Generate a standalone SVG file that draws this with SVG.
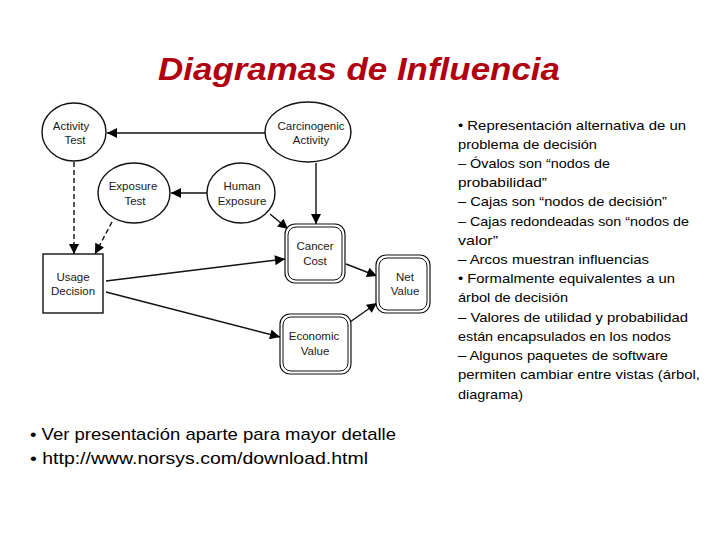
<svg xmlns="http://www.w3.org/2000/svg" width="720" height="540" viewBox="0 0 720 540">
<defs>
<marker id="ah" viewBox="0 0 10 10" refX="10" refY="5" markerWidth="11" markerHeight="10" markerUnits="userSpaceOnUse" orient="auto">
<path d="M0,0 L10,5 L0,10 z" fill="#000"/>
</marker>
</defs>
<style>
.nd{fill:#fff;stroke:#111;stroke-width:1.4}
.vo{fill:#fff;stroke:#111;stroke-width:1.2}
.vi{fill:none;stroke:#111;stroke-width:1}
.lb{font-family:"Liberation Sans",Arial,sans-serif;font-size:11.5px;fill:#1a1a1a;text-anchor:middle}
.cn{fill:none;stroke:#111;stroke-width:1.4;marker-end:url(#ah)}
.ds{stroke-dasharray:5,3}
.rt{font-family:"Liberation Sans",Arial,sans-serif;font-size:13.5px;fill:#000}
.bt{font-family:"Liberation Sans",Arial,sans-serif;font-size:17px;fill:#000}
</style>
<rect width="720" height="540" fill="#fff"/>
<text x="158" y="80" textLength="402" lengthAdjust="spacingAndGlyphs" font-family="Liberation Sans,Arial,sans-serif" font-size="31" font-weight="bold" font-style="italic" fill="#B00010">Diagramas de Influencia</text>

<g id="connectors">
<line class="cn" x1="265" y1="133" x2="107" y2="133"/>
<line class="cn" x1="207" y1="193" x2="171" y2="193"/>
<line class="cn" x1="316" y1="163" x2="316" y2="224"/>
<line class="cn" x1="270" y1="214" x2="288" y2="229"/>
<line class="cn ds" x1="74" y1="162" x2="74" y2="254"/>
<line class="cn ds" x1="112" y1="222" x2="95" y2="254"/>
<line class="cn" x1="106" y1="281" x2="285" y2="259"/>
<line class="cn" x1="106" y1="292" x2="280" y2="337"/>
<line class="cn" x1="346" y1="264" x2="377" y2="276"/>
<line class="cn" x1="350" y1="322" x2="377" y2="303"/>
</g>

<g id="activity-test"><ellipse class="nd" cx="74" cy="132" rx="32" ry="29"/>
<text class="lb" x="71" y="130">Activity</text><text class="lb" x="75" y="144">Test</text></g>
<g id="carcinogenic-activity"><ellipse class="nd" cx="308" cy="132" rx="43" ry="30"/>
<text class="lb" x="311" y="130">Carcinogenic</text><text class="lb" x="311" y="144">Activity</text></g>
<g id="exposure-test"><ellipse class="nd" cx="134" cy="193" rx="36" ry="30"/>
<text class="lb" x="133" y="190">Exposure</text><text class="lb" x="135" y="205">Test</text></g>
<g id="human-exposure"><ellipse class="nd" cx="241" cy="193" rx="34" ry="30"/>
<text class="lb" x="242" y="190">Human</text><text class="lb" x="242" y="205">Exposure</text></g>
<g id="usage-decision"><rect class="nd" x="43" y="254" width="60" height="59"/>
<text class="lb" x="73" y="281">Usage</text><text class="lb" x="73" y="295">Decision</text></g>
<g id="cancer-cost"><rect class="vo" x="285" y="224" width="60" height="59" rx="10"/><rect class="vi" x="288" y="227" width="54" height="53" rx="8"/>
<text class="lb" x="315" y="250">Cancer</text><text class="lb" x="315" y="265">Cost</text></g>
<g id="net-value"><rect class="vo" x="376" y="255" width="54" height="58" rx="10"/><rect class="vi" x="379" y="258" width="48" height="52" rx="8"/>
<text class="lb" x="405" y="281">Net</text><text class="lb" x="405" y="295">Value</text></g>
<g id="economic-value"><rect class="vo" x="280" y="314" width="71" height="60" rx="10"/><rect class="vi" x="283" y="317" width="65" height="54" rx="8"/>
<text class="lb" x="314" y="340">Economic</text><text class="lb" x="315" y="355">Value</text></g>

<g id="right-text" class="rt">
<text x="458" y="130" textLength="228" lengthAdjust="spacingAndGlyphs">• Representación alternativa de un</text>
<text x="458" y="149" textLength="139" lengthAdjust="spacingAndGlyphs">problema de decisión</text>
<text x="458" y="168" textLength="152" lengthAdjust="spacingAndGlyphs">– Óvalos son “nodos de</text>
<text x="458" y="187" textLength="89" lengthAdjust="spacingAndGlyphs">probabilidad”</text>
<text x="458" y="206" textLength="209" lengthAdjust="spacingAndGlyphs">– Cajas son “nodos de decisión”</text>
<text x="458" y="226" textLength="231" lengthAdjust="spacingAndGlyphs">– Cajas redondeadas son “nodos de</text>
<text x="458" y="245" textLength="40" lengthAdjust="spacingAndGlyphs">valor”</text>
<text x="458" y="264" textLength="191" lengthAdjust="spacingAndGlyphs">– Arcos muestran  influencias</text>
<text x="458" y="283" textLength="217" lengthAdjust="spacingAndGlyphs">• Formalmente equivalentes a un</text>
<text x="458" y="302" textLength="110" lengthAdjust="spacingAndGlyphs">árbol de decisión</text>
<text x="458" y="322" textLength="230" lengthAdjust="spacingAndGlyphs">– Valores de utilidad y probabilidad</text>
<text x="458" y="341" textLength="213" lengthAdjust="spacingAndGlyphs">están encapsulados en los nodos</text>
<text x="458" y="360" textLength="210" lengthAdjust="spacingAndGlyphs">– Algunos paquetes de software</text>
<text x="458" y="379" textLength="242" lengthAdjust="spacingAndGlyphs">permiten cambiar entre vistas (árbol,</text>
<text x="458" y="399" textLength="65" lengthAdjust="spacingAndGlyphs">diagrama)</text>
</g>

<g id="bottom-text" class="bt">
<text x="30" y="440" textLength="366" lengthAdjust="spacingAndGlyphs">• Ver presentación aparte para mayor detalle</text>
<text x="30" y="464" textLength="338" lengthAdjust="spacingAndGlyphs">• http://www.norsys.com/download.html</text>
</g>
</svg>
